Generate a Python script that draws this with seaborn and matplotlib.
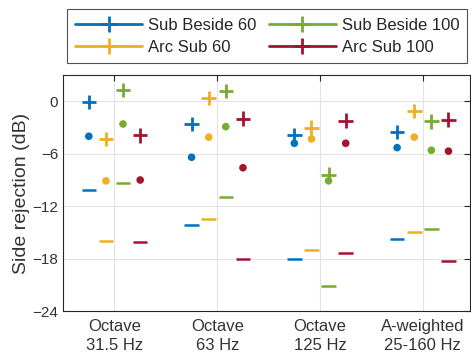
import numpy as np
import pandas as pd
import matplotlib
matplotlib.use("Agg")
import matplotlib.pyplot as plt
from matplotlib.lines import Line2D
import seaborn as sns

groups = ["Octave\n31.5 Hz", "Octave\n63 Hz", "Octave\n125 Hz", "A-weighted\n25-160 Hz"]
series = ["Sub Beside 60", "Arc Sub 60", "Sub Beside 100", "Arc Sub 100"]
colors = ["#0072BD", "#EDB120", "#77AC30", "#A2142F"]

# per series: values for the four groups
max_vals = {
    "Sub Beside 60":  [-0.1, -2.6, -3.9, -3.5],
    "Arc Sub 60":     [-4.3, 0.4, -3.0, -1.1],
    "Sub Beside 100": [1.3, 1.2, -8.4, -2.3],
    "Arc Sub 100":    [-3.9, -2.0, -2.2, -2.1],
}
mean_vals = {
    "Sub Beside 60":  [-4.0, -6.4, -4.8, -5.3],
    "Arc Sub 60":     [-9.1, -4.1, -4.3, -4.1],
    "Sub Beside 100": [-2.6, -2.9, -9.1, -5.6],
    "Arc Sub 100":    [-9.0, -7.6, -4.8, -5.7],
}
min_vals = {
    "Sub Beside 60":  [-10.2, -14.1, -18.0, -15.7],
    "Arc Sub 60":     [-16.0, -13.5, -17.0, -15.0],
    "Sub Beside 100": [-9.3, -10.9, -21.1, -14.6],
    "Arc Sub 100":    [-16.1, -18.0, -17.4, -18.3],
}
offsets = [-0.25, -0.083, 0.083, 0.25]

rows = []
for s, off in zip(series, offsets):
    for g in range(len(groups)):
        rows.append({"series": s, "x": g + 1 + off, "max": max_vals[s][g],
                     "mean": mean_vals[s][g], "min": min_vals[s][g]})
df = pd.DataFrame(rows)

sns.set_style("white")
plt.rcParams["font.family"] = ["Liberation Sans", "DejaVu Sans"]

fig = plt.figure(figsize=(4.71, 3.54), dpi=100)
ax = fig.add_axes([0.134, 0.121, 0.864, 0.667])

pal = dict(zip(series, colors))
sns.scatterplot(data=df, x="x", y="max", hue="series", palette=pal, marker="+",
                s=110, linewidth=2, ax=ax, legend=False, zorder=3)
sns.scatterplot(data=df, x="x", y="mean", hue="series", palette=pal, marker="o",
                s=30, linewidth=0, ax=ax, legend=False, zorder=3)
sns.scatterplot(data=df, x="x", y="min", hue="series", palette=pal, marker="_",
                s=110, linewidth=1.8, ax=ax, legend=False, zorder=3)

ax.set_xlim(0.5, 4.46)
ax.set_ylim(-24, 3)
ax.set_xticks(range(1, len(groups) + 1))
ax.set_xticklabels(groups, fontsize=12, linespacing=1.3, color="#333333")
ax.set_yticks([0, -6, -12, -18, -24])
ax.set_xlabel("")
ax.set_ylabel("Side rejection (dB)", fontsize=14, color="#333333", labelpad=2)
ax.grid(True, color="#e3e3e3", linewidth=0.8)
ax.set_axisbelow(True)
for sp in ax.spines.values():
    sp.set_color("#262626")
    sp.set_linewidth(0.8)
ax.tick_params(direction="in", length=4, width=0.8, colors="#262626",
               top=True, right=True, labelcolor="#333333")
ax.tick_params(axis="y", labelsize=11)
ax.tick_params(axis="x", pad=6)

handles = [Line2D([0], [0], color=c, marker="+", markersize=11, markeredgewidth=2,
                  linewidth=2) for c in colors]
leg = fig.legend(handles, series, ncol=2, loc="upper left",
                 bbox_to_anchor=(67 / 471, 1 - 9.3 / 354),
                 frameon=True, fancybox=False, fontsize=12,
                 handlelength=4.0, handletextpad=0.36, columnspacing=0.75,
                 borderpad=0.5, labelspacing=0.42, borderaxespad=0)
leg.get_frame().set_edgecolor("#262626")
leg.get_frame().set_linewidth(0.8)

fig.savefig("out.png", dpi=100)
